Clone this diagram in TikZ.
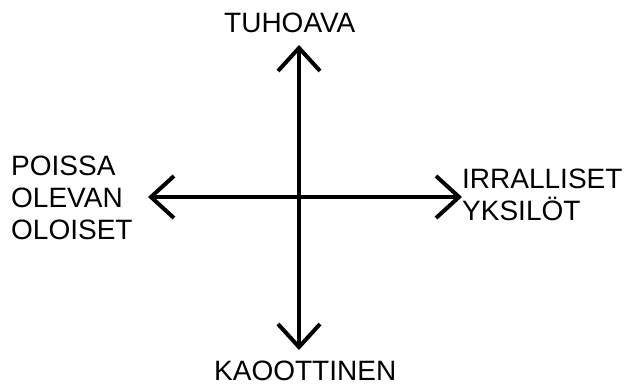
\documentclass[tikz,border=0pt]{standalone}
\usepackage{fontspec}
\setmainfont{Liberation Sans}
\usepackage{tikz}
\usetikzlibrary{arrows.meta}
\tikzset{
  axis label/.style={inner sep=0pt,anchor=base west,align=left,font=\fontsize{28}{32}\selectfont},
  axis line/.style={draw,line width=4pt}
}

\begin{document}
\begin{tikzpicture}[x=1pt,y=-1pt,<->,>={Straight Barb[length=23pt,width=42pt]}]
		    \useasboundingbox (0,0) rectangle (637,387);
		    \coordinate (up)    at (299,45);
		    \coordinate (down)  at (299,350);
		    \coordinate (left)  at (148,197);
		    \coordinate (right) at (462,197);
		    \node[axis label] (destructive) at (224,33)  {TUHOAVA};
		    \node[axis label] (chaotic)     at (214,380) {KAOOTTINEN};
		    \node[axis label] (absent)      at (11,240)  {POISSA\\OLEVAN\\OLOISET};
		    \node[axis label] (detached)    at (462,221) {IRRALLISET\\YKSILÖT};
		    \draw[axis line] (up) -- (down);
		    \draw[axis line] (left) -- (right);
		  \end{tikzpicture}
\end{document}
